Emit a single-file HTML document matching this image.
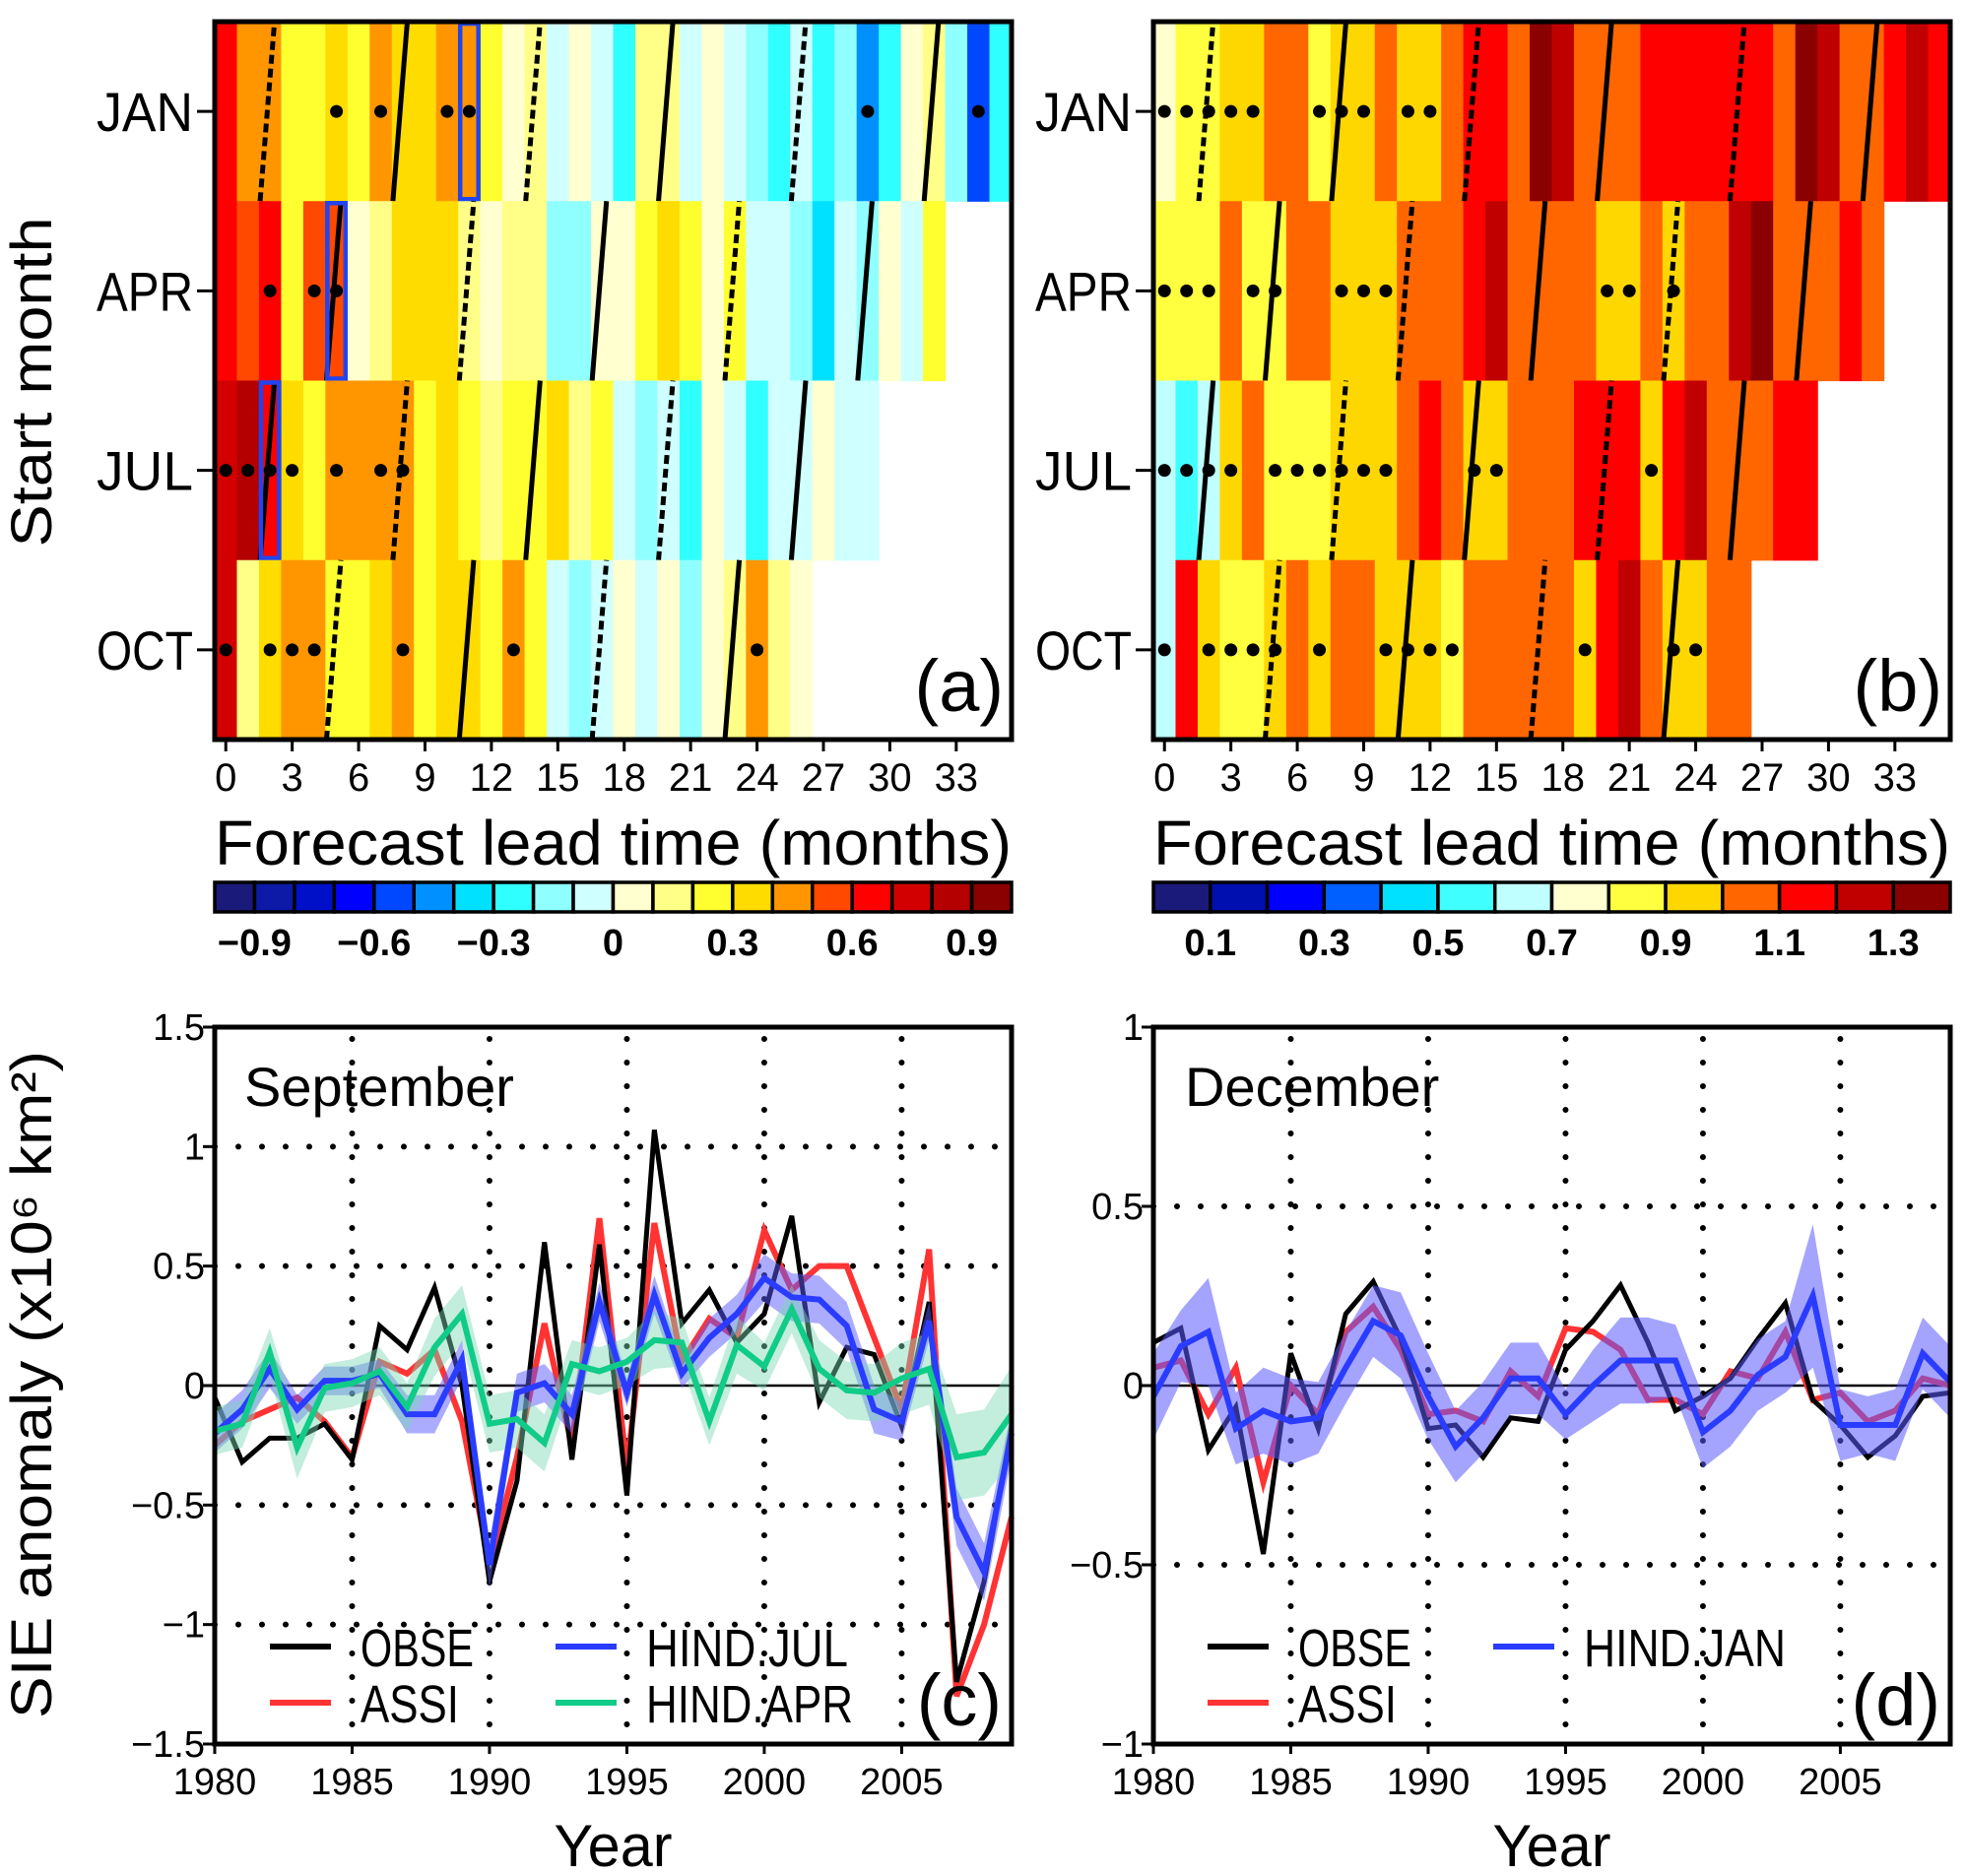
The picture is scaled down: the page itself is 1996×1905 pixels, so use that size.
<!DOCTYPE html>
<html><head><meta charset="utf-8"><title>Sea ice extent forecast skill</title>
<style>
html,body{margin:0;padding:0;background:#fff;}
svg{display:block;font-family:"Liberation Sans",sans-serif;}
</style></head>
<body>
<svg id="fig" width="1996" height="1905" viewBox="0 0 1996 1905" xmlns="http://www.w3.org/2000/svg">
<g id="layer"></g>
</svg>
<script>
// ---------- DATA ----------
const startMonths = ["JAN","APR","JUL","OCT"];
const leadTicks = [0,3,6,9,12,15,18,21,24,27,30,33];
// panel a: correlation per lead month
const corrJan = [0.65,0.45,0.45,0.25,0.25,0.35,0.25,0.45,0.35,0.35,0.45,0.45,0.25,0.05,0.15,-0.05,0.05,-0.05,-0.25,0.15,0.15,-0.05,0.05,-0.05,-0.15,-0.25,-0.05,-0.25,-0.15,-0.45,-0.25,0.05,0.15,-0.15,-0.55,-0.25];
const corrApr = [0.65,0.55,0.65,0.25,0.55,0.55,0.05,0.15,0.35,0.35,0.35,0.15,0.05,0.15,0.15,-0.15,-0.15,0.05,0.05,0.25,0.35,0.25,0.05,0.25,-0.05,-0.05,-0.15,-0.35,-0.05,-0.15,0.05,-0.05,0.25];
const corrJul = [0.75,0.85,0.65,0.35,0.25,0.45,0.45,0.45,0.45,0.25,0.35,0.25,0.15,0.25,0.25,0.35,0.15,0.25,-0.05,-0.15,-0.05,-0.25,0.05,-0.05,-0.25,-0.05,-0.05,0.05,-0.05,-0.05];
const corrOct = [0.75,0.15,0.35,0.45,0.45,0.25,0.25,0.35,0.45,0.25,0.35,0.35,0.25,0.45,0.25,-0.05,-0.15,-0.05,0.05,-0.05,0.05,-0.15,0.05,0.15,0.45,0.15,0.05];
const dotsA = [[5,7,10,11,29,34],[2,4,5],[0,1,2,3,5,7,8],[0,2,3,4,8,13,24]];
const boxesA = [11,5,2,null];
// panel b: normalized RMSE
const rmseJan = [0.75,0.85,0.85,0.95,0.95,1.05,1.05,0.85,0.95,0.95,1.05,0.95,0.95,1.05,1.15,1.15,1.05,1.35,1.25,1.05,1.05,1.05,1.15,1.15,1.15,1.15,1.15,1.15,1.05,1.35,1.25,1.05,1.05,1.15,1.25,1.15];
const rmseApr = [0.85,0.85,0.85,1.05,0.85,0.85,1.05,1.05,0.95,0.95,0.95,1.05,1.05,1.05,1.15,1.25,1.05,1.05,1.05,1.05,0.95,0.95,1.05,0.95,1.05,1.05,1.25,1.35,1.05,1.05,1.05,1.15,1.05];
const rmseJul = [0.65,0.55,0.65,0.95,1.05,0.85,0.85,0.85,0.95,0.95,0.95,1.05,1.15,1.05,0.95,0.95,1.05,1.05,1.05,1.15,1.15,1.15,0.95,1.15,1.25,1.05,1.05,1.05,1.15,1.15];
const rmseOct = [0.65,1.15,0.95,0.85,0.85,0.95,1.05,0.95,1.05,1.05,0.95,0.95,0.95,0.85,1.05,1.05,1.05,1.05,1.05,0.95,1.15,1.25,1.05,0.95,0.95,1.05,1.05];
const dotsB = [[0,1,2,3,4,7,8,9,11,12],[0,1,2,4,5,8,9,10,20,21,23],[0,1,2,3,5,6,7,8,9,10,14,15,22],[0,2,3,4,5,7,10,11,12,13,19,23,24]];
// first September(solid)/March(dashed) crossing lead per start month
const firstLineLead = [2,5,2,5];
const firstLineDashed = [true,false,false,true];
const cbLabelsA = ["−0.9","−0.6","−0.3","0","0.3","0.6","0.9"];
const cbLabelsB = ["0.1","0.3","0.5","0.7","0.9","1.1","1.3"];
// panel c: September SIE anomaly
const years = [1980,1981,1982,1983,1984,1985,1986,1987,1988,1989,1990,1991,1992,1993,1994,1995,1996,1997,1998,1999,2000,2001,2002,2003,2004,2005,2006,2007,2008,2009];
const sepObs = [-0.05,-0.32,-0.22,-0.22,-0.16,-0.31,0.25,0.15,0.41,0.0,-0.82,-0.4,0.6,-0.31,0.59,-0.46,1.07,0.26,0.4,0.18,0.3,0.71,-0.07,0.16,0.13,-0.17,0.35,-1.24,-0.82,-0.17];
const sepAssi = [-0.25,-0.15,-0.1,-0.05,-0.15,-0.3,0.1,0.05,0.15,-0.15,-0.75,-0.3,0.26,-0.25,0.7,-0.35,0.68,0.1,0.28,0.2,0.65,0.4,0.5,0.5,0.2,-0.1,0.57,-1.3,-1.0,-0.55];
const sepJul = [-0.2,-0.1,0.07,-0.1,0.02,0.02,0.05,-0.12,-0.12,0.11,-0.75,-0.03,0.01,-0.12,0.35,-0.03,0.38,0.05,0.2,0.3,0.45,0.37,0.36,0.25,-0.1,-0.15,0.27,-0.55,-0.78,-0.2];
const sepJulSpread = [0.08,0.08,0.08,0.06,0.06,0.06,0.06,0.08,0.08,0.08,0.1,0.08,0.08,0.08,0.08,0.06,0.08,0.06,0.08,0.08,0.1,0.1,0.1,0.1,0.1,0.08,0.08,0.12,0.12,0.1];
const sepApr = [-0.19,-0.16,0.14,-0.26,-0.01,0.01,0.06,-0.09,0.16,0.3,-0.16,-0.14,-0.24,0.09,0.06,0.1,0.19,0.18,-0.15,0.17,0.08,0.32,0.07,-0.02,-0.03,0.03,0.07,-0.3,-0.28,-0.12];
const sepAprSpread = [0.1,0.1,0.1,0.13,0.1,0.1,0.1,0.1,0.12,0.12,0.12,0.12,0.12,0.1,0.1,0.1,0.12,0.1,0.1,0.12,0.1,0.1,0.12,0.12,0.12,0.15,0.15,0.18,0.18,0.2];
const ticksC = [1.5,1,0.5,0,-0.5,-1,-1.5];
const tickLabelsC = ["1.5","1","0.5","0","−0.5","−1","−1.5"];
// panel d: December SIE anomaly
const decObs = [0.12,0.16,-0.18,-0.06,-0.47,0.09,-0.12,0.2,0.29,0.13,-0.12,-0.11,-0.2,-0.09,-0.1,0.1,0.18,0.28,0.12,-0.07,-0.03,0.02,0.13,0.23,-0.04,-0.11,-0.2,-0.14,-0.03,-0.02];
const decAssi = [0.05,0.07,-0.08,0.05,-0.27,0.0,-0.08,0.15,0.22,0.1,-0.08,-0.07,-0.1,0.04,-0.03,0.16,0.15,0.1,-0.04,-0.04,-0.08,0.04,0.02,0.15,-0.04,-0.02,-0.1,-0.07,0.02,0.0];
const decJan = [-0.03,0.11,0.15,-0.12,-0.07,-0.1,-0.09,0.05,0.18,0.14,-0.03,-0.17,-0.09,0.02,0.02,-0.08,0.0,0.07,0.07,0.07,-0.13,-0.07,0.03,0.08,0.25,-0.11,-0.11,-0.11,0.09,0.01];
const decJanSpread = [0.12,0.1,0.15,0.1,0.12,0.12,0.1,0.1,0.1,0.12,0.12,0.1,0.1,0.1,0.1,0.07,0.1,0.12,0.12,0.1,0.1,0.1,0.1,0.1,0.2,0.1,0.08,0.1,0.1,0.1];
const ticksD = [1,0.5,0,-0.5,-1];
const tickLabelsD = ["1","0.5","0","−0.5","−1"];
const yearTicks = [1980,1985,1990,1995,2000,2005];

// ---------- HELPERS ----------
const NS="http://www.w3.org/2000/svg";
const root=document.getElementById('layer');
function mk(tag,attrs,parent){const e=document.createElementNS(NS,tag);for(const k in attrs)e.setAttribute(k,attrs[k]);(parent||root).appendChild(e);return e;}
function txt(s,attrs,parent){const e=mk('text',attrs,parent);e.textContent=s;return e;}
const palA=["#1a1a7a","#0d1aa8","#0010c8","#0000ff","#0048ff","#0090ff","#00e0ff","#30ffff","#90ffff","#d0ffff","#ffffd0","#ffff88","#ffff30","#ffdc00","#ff9600","#ff4800","#ff0000","#d20000","#b40000","#8b0000"];
const palB=["#1a1a7a","#0010b0","#0000ff","#0060ff","#00e0ff","#40ffff","#c0ffff","#ffffd0","#ffff40","#ffd700","#ff6600","#ff0000","#c00000","#8b0000"];
function colA(v){let i=Math.floor((v+1)/0.1);return palA[Math.max(0,Math.min(19,i))];}
function colB(v){let i=Math.floor(v/0.1);return palB[Math.max(0,Math.min(13,i))];}

const TOP=22, BOT=751, ROWH=(BOT-TOP)/4, W=809;
function heatPanel(x0,rows,colorFn,dots,boxes,name,letter,cbPal,cbLabels,cbLabelIdx){
  const g=mk('g',{});
  
  
  const cw=W/36;
  const X=m=>x0+m*cw;
  rows.forEach((row,r)=>{
    const y0=TOP+r*ROWH;
    row.forEach((v,c)=>{
      const rc=mk('rect',{x:X(c),y:y0,width:cw+0.6,height:ROWH+0.6,fill:colorFn(v)},g);
      
      
    });
    let lead=firstLineLead[r], dashed=firstLineDashed[r];
    while(lead<row.length-0.5){
      const ln=mk('line',{x1:X(lead+0.05),y1:y0+ROWH,x2:X(lead+0.7),y2:y0,stroke:'#000','stroke-width':5},g);
      if(dashed) ln.setAttribute('stroke-dasharray','9 5');
      
      
      lead+=6; dashed=!dashed;
    }
    dots[r].forEach(c=>{
      const d=mk('circle',{cx:X(c+0.5),cy:y0+ROWH/2,r:6.5,fill:'#000'},g);
      
      
    });
    if(boxes && boxes[r]!=null){
      const b=mk('rect',{x:X(boxes[r])+2,y:y0+2,width:cw-4,height:ROWH-4,fill:'none',stroke:'#2244ee','stroke-width':4.5},g);
      
      
    }
    mk('line',{x1:x0-18,y1:y0+ROWH/2,x2:x0,y2:y0+ROWH/2,stroke:'#000','stroke-width':3},g);
    const t=txt(startMonths[r],{x:x0-22,y:y0+ROWH/2+20,'text-anchor':'end','font-size':56,textLength:98,lengthAdjust:'spacingAndGlyphs'},g);
    
    
  });
  const fr=mk('rect',{x:x0,y:TOP,width:W,height:BOT-TOP,fill:'none',stroke:'#000','stroke-width':5},g);
  
  
  leadTicks.forEach(m=>{
    mk('line',{x1:X(m+0.5),y1:BOT,x2:X(m+0.5),y2:BOT+12,stroke:'#000','stroke-width':3},g);
    const t=txt(String(m),{x:X(m+0.5),y:803,'text-anchor':'middle','font-size':40},g);
    
    
  });
  const xt=txt('Forecast  lead  time  (months)',{x:x0,y:878,'font-size':64,textLength:W,lengthAdjust:'spacingAndGlyphs'},g);
  
  
  const pl=txt('('+letter+')',{x:x0+W-8,y:722,'text-anchor':'end','font-size':74},g);
  
  
  const cb=mk('g',{},g);
  
  
  const n=cbPal.length, bw=W/n;
  cbPal.forEach((c,i)=>{mk('rect',{x:x0+i*bw,y:896,width:bw,height:30,fill:c,stroke:'#000','stroke-width':3.5},cb);});
  cbLabels.forEach((s,i)=>{
    const t=txt(s,{x:x0+cbLabelIdx[i]*bw,y:970,'text-anchor':'middle','font-size':38,'font-weight':'bold'},cb);
    
    
  });
}
heatPanel(218,[corrJan,corrApr,corrJul,corrOct],colA,dotsA,boxesA,'panel-a-correlation-heatmap','a',palA,cbLabelsA,[1,4,7,10,13,16,19]);
heatPanel(1171,[rmseJan,rmseApr,rmseJul,rmseOct],colB,dotsB,null,'panel-b-rmse-heatmap','b',palB,cbLabelsB,[1,3,5,7,9,11,13]);

const sm=txt('Start  month',{x:0,y:0,'text-anchor':'middle','font-size':58,textLength:335,lengthAdjust:'spacingAndGlyphs',transform:'translate(52,388) rotate(-90)'});



// ---------- TIME SERIES ----------
const CT=1043, CB=1771;
function tsPanel(x0,vmin,vmax,ticks,tickLabels,series,name,title,letter,legend){
  const g=mk('g',{});
  
  
  const X=yr=>x0+(yr-1980)*W/29;
  const Y=v=>CT+(vmax-v)/(vmax-vmin)*(CB-CT);
  ticks.forEach((v,i)=>{
    if(v!==vmin && v!==vmax && v!==0){
      const gl=mk('line',{x1:x0,y1:Y(v),x2:x0+W,y2:Y(v),stroke:'#000','stroke-width':6,'stroke-dasharray':'0 24','stroke-linecap':'round'},g);
      
      
    }
    mk('line',{x1:x0-12,y1:Y(v),x2:x0,y2:Y(v),stroke:'#000','stroke-width':3},g);
    const t=txt(tickLabels[i],{x:x0-10,y:Y(v)+13,'text-anchor':'end','font-size':38},g);
    
    
  });
  yearTicks.forEach(yr=>{
    if(yr!==1980){
      const gl=mk('line',{x1:X(yr),y1:CT+12,x2:X(yr),y2:CB,stroke:'#000','stroke-width':6,'stroke-dasharray':'0 24','stroke-linecap':'round'},g);
      
      
    }
    mk('line',{x1:X(yr),y1:CB,x2:X(yr),y2:CB+10,stroke:'#000','stroke-width':3},g);
    const t=txt(String(yr),{x:X(yr),y:1822,'text-anchor':'middle','font-size':38},g);
    
    
  });
  mk('line',{x1:x0,y1:Y(0),x2:x0+W,y2:Y(0),stroke:'#000','stroke-width':2.5},g);
  const pts=a=>a.map((v,i)=>X(years[i])+','+Y(v)).join(' ');
  series.forEach(s=>{
    if(s.spread){
      const up=s.data.map((v,i)=>X(years[i])+','+Y(v+s.spread[i]));
      const dn=s.data.map((v,i)=>X(years[i])+','+Y(v-s.spread[i])).reverse();
      const sh=mk('polygon',{points:up.concat(dn).join(' '),fill:s.shade,'fill-opacity':s.op},g);
      
      
    }
    if(s.data && s.lineOn!==false){
      const pl=mk('polyline',{points:pts(s.data),fill:'none',stroke:s.color,'stroke-width':s.w,'stroke-linejoin':'miter'},g);
      
      
    }
  });
  const fr=mk('rect',{x:x0,y:CT,width:W,height:CB-CT,fill:'none',stroke:'#000','stroke-width':5},g);
  
  
  const tt=txt(title,{x:x0+(title==='September'?30:32),y:1123,'font-size':56},g);
  
  
  legend.forEach(l=>{
    const lg=mk('g',{},g);
    
    
    mk('line',{x1:l.x,y1:l.y,x2:l.x+62,y2:l.y,stroke:l.color,'stroke-width':6},lg);
    txt(l.label,{x:l.x+92,y:l.y+20,'font-size':54,textLength:l.tl,lengthAdjust:'spacingAndGlyphs'},lg);
  });
  const pl=txt('('+letter+')',{x:x0+W-10,y:1752,'text-anchor':'end','font-size':74},g);
  
  
  const yt=txt('Year',{x:x0+W/2,y:1895,'text-anchor':'middle','font-size':60,textLength:120,lengthAdjust:'spacingAndGlyphs'},g);
  
  
}
tsPanel(218,-1.5,1.5,ticksC,tickLabelsC,[
  {name:'assi',data:sepAssi,color:'#ff3333',w:6},
  {name:'obse',data:sepObs,color:'#000',w:5},
  {name:'hind-jul',data:sepJul,spread:sepJulSpread,shade:'#5a5aff',op:0.5,color:'#2a3cff',w:6,lineOn:false},
  {name:'hind-apr',data:sepApr,spread:sepAprSpread,shade:'#7ad8b4',op:0.45,color:'#10cc88',w:6,lineOn:false},
  {name:'hind-jul',data:sepJul,color:'#2a3cff',w:6},
  {name:'hind-apr',data:sepApr,color:'#10cc88',w:6}
],'panel-c-september-timeseries','September','c',[
  {x:274,y:1672,color:'#000',label:'OBSE',tl:115},
  {x:274,y:1729,color:'#ff3333',label:'ASSI',tl:100},
  {x:564,y:1672,color:'#2a3cff',label:'HIND.JUL',tl:205},
  {x:564,y:1729,color:'#10cc88',label:'HIND.APR',tl:210}
]);
tsPanel(1171,-1,1,ticksD,tickLabelsD,[
  {name:'assi',data:decAssi,color:'#ff3333',w:6},
  {name:'obse',data:decObs,color:'#000',w:5},
  {name:'hind-jan',data:decJan,spread:decJanSpread,shade:'#5a5aff',op:0.55,color:'#2a3cff',w:6,lineOn:false},
  {name:'hind-jan',data:decJan,color:'#2a3cff',w:6}
],'panel-d-december-timeseries','December','d',[
  {x:1226,y:1672,color:'#000',label:'OBSE',tl:115},
  {x:1226,y:1729,color:'#ff3333',label:'ASSI',tl:100},
  {x:1516,y:1672,color:'#2a3cff',label:'HIND.JAN',tl:205}
]);
const ya=txt('SIE  anomaly  (x10⁶  km²)',{x:0,y:0,'text-anchor':'middle','font-size':58,textLength:678,lengthAdjust:'spacingAndGlyphs',transform:'translate(52,1406) rotate(-90)'});


</script>
</body></html>
